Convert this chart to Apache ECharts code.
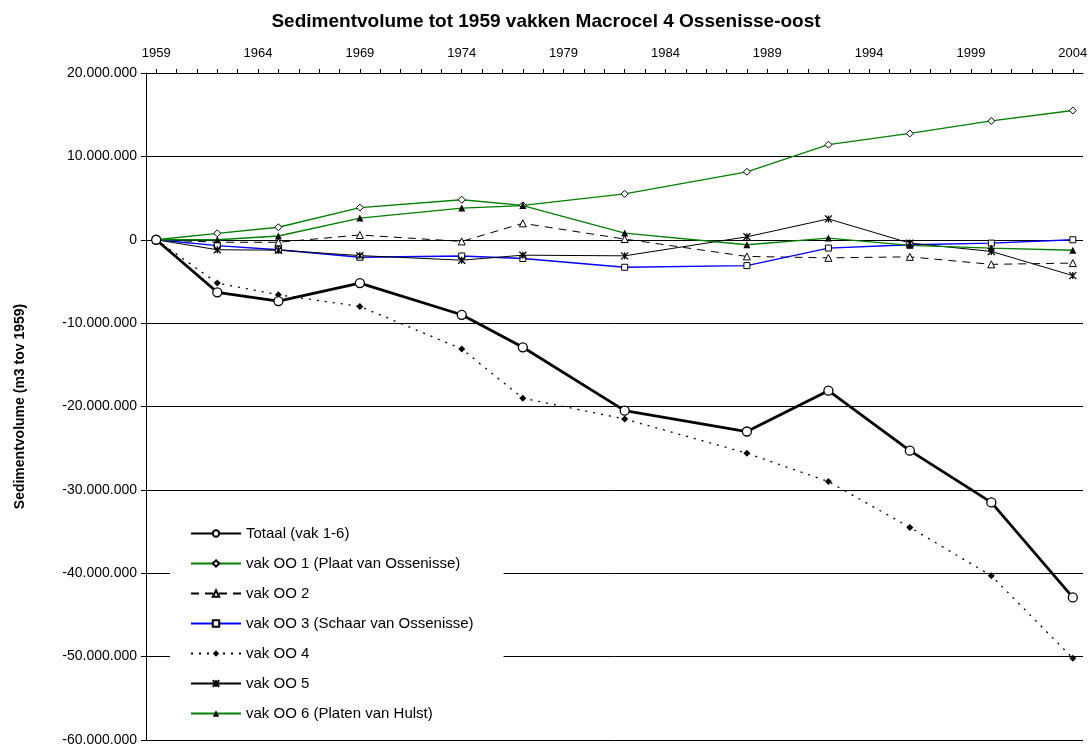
<!DOCTYPE html>
<html>
<head>
<meta charset="utf-8">
<script src="https://cdn.jsdelivr.net/npm/echarts@6/dist/echarts.min.js"></script>
<style>html,body{margin:0;padding:0;background:#fff}#c{width:1092px;height:747px}</style>
</head>
<body>
<div id="c"></div>
<script>
// ---- data ----
const years = [1959, 1962, 1965, 1969, 1974, 1977, 1982, 1988, 1992, 1996, 2000, 2004];
const totaal = [0, -6300000, -7350000, -5200000, -9000000, -12900000, -20500000, -23000000, -18100000, -25300000, -31500000, -42900000];
const oo1 = [0, 770000, 1500000, 3850000, 4800000, 4130000, 5500000, 8150000, 11400000, 12750000, 14250000, 15500000];
const oo2 = [0, -300000, -300000, 570000, -200000, 1970000, 80000, -2000000, -2170000, -2050000, -2950000, -2800000];
const oo3 = [0, -700000, -1200000, -2100000, -1950000, -2250000, -3300000, -3100000, -1000000, -600000, -400000, 0];
const oo4 = [0, -5200000, -6600000, -8000000, -13100000, -19000000, -21500000, -25600000, -29000000, -34500000, -40300000, -50200000];
const oo5 = [0, -1200000, -1250000, -1900000, -2450000, -1850000, -1930000, 350000, 2500000, -400000, -1400000, -4300000];
const oo6 = [0, 0, 450000, 2600000, 3800000, 4100000, 800000, -600000, 200000, -670000, -1000000, -1260000];
const xLabelYears = [1959, 1964, 1969, 1974, 1979, 1984, 1989, 1994, 1999, 2004];
const xTickYears = [1959,1960,1961,1962,1963,1964,1965,1966,1967,1968,1969,1970,1971,1972,1973,1974,1975,1976,1977,1978,1979,1980,1981,1982,1983,1984,1985,1986,1987,1988,1989,1990,1991,1992,1993,1994,1995,1996,1997,1998,1999,2000,2001,2002,2003,2004];
const seriesNames = ['Totaal (vak 1-6)', 'vak OO 1 (Plaat van Ossenisse)', 'vak OO 2', 'vak OO 3 (Schaar van Ossenisse)', 'vak OO 4', 'vak OO 5', 'vak OO 6 (Platen van Hulst)'];

const pairs = arr => years.map((y, i) => [y, arr[i]]);
const fmt = v => {
  if (v === 0) return '0';
  const s = Math.abs(v).toString().replace(/\B(?=(\d{3})+(?!\d))/g, '.');
  return (v < 0 ? '-' : '') + s;
};
const FONT = 'Liberation Sans, Arial, sans-serif';
const starPath = 'path://M0,0L10,10M10,0L0,10M5,0L5,10';

const chart = echarts.init(document.getElementById('c'));
chart.setOption({
  animation: false,
  backgroundColor: '#fff',
  title: {
    text: 'Sedimentvolume tot 1959 vakken Macrocel 4 Ossenisse-oost',
    left: 'center', top: 7,
    textStyle: { fontFamily: FONT, fontWeight: 'bold', fontSize: 19, color: '#000' }
  },
  grid: { left: 146, right: 9, top: 73, height: 674, containLabel: false },
  xAxis: {
    type: 'value', position: 'top', min: 1958.5, max: 2004.5,
    axisLine: { show: true, onZero: false, lineStyle: { color: '#000', width: 1 } },
    axisTick: { show: true, inside: false, length: 4, customValues: xTickYears, lineStyle: { color: '#000' } },
    axisLabel: { customValues: xLabelYears, margin: 13, fontFamily: FONT, fontSize: 13, color: '#000', formatter: v => String(v) },
    splitLine: { show: false }
  },
  yAxis: {
    type: 'value', min: -60000000, max: 20000000, interval: 10000000,
    name: 'Sedimentvolume (m3 tov 1959)', nameLocation: 'middle', nameGap: 119, nameRotate: 90,
    nameTextStyle: { fontFamily: FONT, fontWeight: 'bold', fontSize: 14, color: '#000' },
    axisLine: { show: true, onZero: false, lineStyle: { color: '#000', width: 1 } },
    axisTick: { show: true, length: 5, lineStyle: { color: '#000' } },
    axisLabel: { margin: 9, fontFamily: FONT, fontSize: 14, color: '#000', formatter: fmt },
    splitLine: { show: true, lineStyle: { color: '#000', width: 1 } }
  },
  legend: {
    orient: 'vertical', left: 170, top: 511,
    padding: [15, 30, 12, 20],
    backgroundColor: '#fff',
    itemWidth: 50, itemHeight: 8, itemGap: 15,
    textStyle: { fontFamily: FONT, fontSize: 15, color: '#000' },
    data: seriesNames
  },
  series: [
    { name: seriesNames[0], type: 'line', data: pairs(totaal), z: 8,
      lineStyle: { color: '#000', width: 2.8 }, symbol: 'circle', symbolSize: 9,
      itemStyle: { color: '#fff', borderColor: '#000', borderWidth: 1.3 } },
    { name: seriesNames[1], type: 'line', data: pairs(oo1),
      lineStyle: { color: '#008000', width: 1.3 }, symbol: 'diamond', symbolSize: 7,
      itemStyle: { color: '#fff', borderColor: '#000', borderWidth: 1 } },
    { name: seriesNames[2], type: 'line', data: pairs(oo2),
      lineStyle: { color: '#000', width: 1, type: [8, 6] }, symbol: 'triangle', symbolSize: 7,
      itemStyle: { color: '#fff', borderColor: '#000', borderWidth: 1 } },
    { name: seriesNames[3], type: 'line', data: pairs(oo3),
      lineStyle: { color: '#0000ff', width: 1.3 }, symbol: 'rect', symbolSize: 6,
      itemStyle: { color: '#fff', borderColor: '#000', borderWidth: 1 } },
    { name: seriesNames[4], type: 'line', data: pairs(oo4),
      lineStyle: { color: '#000', width: 1.3, type: [2, 6] }, symbol: 'diamond', symbolSize: 7,
      itemStyle: { color: '#000', borderColor: '#000', borderWidth: 0 } },
    { name: seriesNames[5], type: 'line', data: pairs(oo5),
      lineStyle: { color: '#000', width: 1 }, symbol: starPath, symbolSize: 7,
      itemStyle: { color: '#000', borderColor: '#000', borderWidth: 1.3 } },
    { name: seriesNames[6], type: 'line', data: pairs(oo6),
      lineStyle: { color: '#008000', width: 1.3 }, symbol: 'triangle', symbolSize: 7,
      itemStyle: { color: '#000', borderColor: '#000', borderWidth: 0 } }
  ]
});
</script>
</body>
</html>
